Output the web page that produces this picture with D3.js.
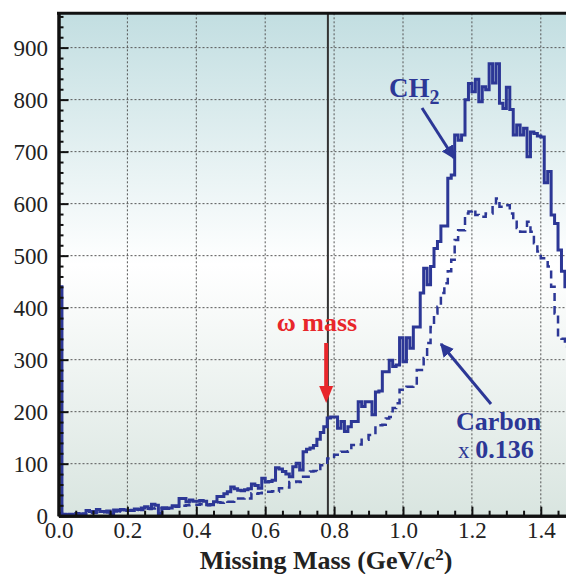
<!DOCTYPE html>
<html lang="en">
<head>
<meta charset="utf-8">
<title>Missing Mass spectrum</title>
<script src="https://cdn.jsdelivr.net/npm/d3@7"></script>
<style>
  body { margin: 0; background: #fff; }
  text { font-family: "Liberation Serif", "Times New Roman", serif; }
  .axis text { font-size: 23px; fill: #222; }
  .axis .domain { stroke: #111; stroke-width: 3; }
  .axis .tick line { stroke: #111; stroke-width: 2; }
  .grid line { stroke: #555; stroke-width: 1; stroke-dasharray: 2,2; }
</style>
</head>
<body>
<script>
/* histogram bins, width 0.01 GeV/c^2, starting at 0 */
var binWidth = 0.01;
var ch2 = [440, 3, 2, 3, 2, 4, 3, 3, 10, 8,
  8, 12, 8, 8, 9, 3, 11, 11, 12, 11,
  10, 10, 13, 12, 15, 17, 14, 22, 20, 4,
  14, 14, 15, 19, 19, 33, 33, 27, 30, 28,
  28, 29, 28, 21, 21, 27, 37, 37, 42, 46,
  55, 52, 49, 48, 50, 52, 61, 58, 53, 72,
  65, 66, 68, 92, 90, 85, 80, 75, 94, 101,
  88, 123, 128, 130, 135, 147, 160, 171, 188, 190,
  190, 168, 181, 162, 171, 181, 181, 219, 210, 219,
  219, 194, 238, 240, 277, 277, 299, 287, 290, 342,
  296, 342, 322, 363, 363, 428, 476, 444, 479, 514,
  527, 557, 557, 649, 655, 732, 722, 732, 800, 831,
  815, 839, 796, 825, 819, 869, 832, 869, 793, 783,
  824, 781, 732, 751, 732, 745, 690, 738, 735, 730,
  728, 640, 662, 578, 562, 511, 470, 440];
var carbon = [5, 2, 2, 3, 2, 3, 3, 4, 4, 5,
  5, 6, 6, 7, 6, 8, 8, 9, 8, 10,
  10, 11, 11, 12, 11, 13, 13, 14, 15, 15,
  16, 16, 17, 18, 17, 19, 19, 20, 21, 21,
  21, 22, 21, 20, 22, 24, 26, 25, 28, 27,
  27, 33, 33, 33, 34, 33, 43, 42, 43, 44,
  46, 46, 47, 46, 53, 53, 54, 65, 65, 66,
  65, 75, 75, 85, 86, 85, 97, 97, 110, 110,
  117, 117, 123, 123, 124, 136, 136, 137, 146, 146,
  155, 155, 174, 174, 175, 187, 190, 207, 216, 242,
  242, 248, 248, 249, 280, 280, 303, 332, 363, 389,
  402, 428, 447, 470, 492, 530, 549, 549, 581, 585,
  588, 578, 575, 575, 581, 581, 597, 610, 594, 597,
  597, 581, 565, 553, 546, 546, 565, 546, 524, 508,
  495, 495, 479, 440, 389, 344, 340, 325];
var xTicks = [0, 0.2, 0.4, 0.6, 0.8, 1.0, 1.2, 1.4];
var yTicks = [0, 100, 200, 300, 400, 500, 600, 700, 800, 900];
var omegaMass = 0.782;

var W = 566, H = 574;
var plotLeft = 58.5, plotTop = 13.3, plotBottom = 515.7;

var x = d3.scaleLinear().domain([0, 1.475]).range([plotLeft, plotLeft + 344.5 * 1.475]);
var y = d3.scaleLinear().domain([0, 966]).range([plotBottom, plotTop]);

var svg = d3.select("body").append("svg")
  .attr("width", W).attr("height", H);

var defs = svg.append("defs");
var grad = defs.append("linearGradient").attr("id", "bg")
  .attr("x1", 0).attr("y1", 0).attr("x2", 0).attr("y2", 1);
grad.append("stop").attr("offset", "0%").attr("stop-color", "#c2dee1");
grad.append("stop").attr("offset", "50%").attr("stop-color", "#ffffff");
grad.append("stop").attr("offset", "100%").attr("stop-color", "#d9e5e0");
defs.append("clipPath").attr("id", "clip").append("rect")
  .attr("x", plotLeft).attr("y", plotTop).attr("width", W - plotLeft).attr("height", plotBottom - plotTop);
defs.append("marker").attr("id", "head").attr("viewBox", "0 0 10 10")
  .attr("refX", 9).attr("refY", 5).attr("markerWidth", 4.5).attr("markerHeight", 4.5)
  .attr("orient", "auto").attr("markerUnits", "strokeWidth")
  .append("path").attr("d", "M0,0L10,5L0,10z").attr("fill", "#2c3796");

/* background */
svg.append("rect").attr("x", plotLeft).attr("y", plotTop)
  .attr("width", W - plotLeft).attr("height", plotBottom - plotTop)
  .attr("fill", "url(#bg)");

/* dotted grid */
var grid = svg.append("g").attr("class", "grid");
grid.selectAll(".gx").data(xTicks.slice(1)).enter().append("line")
  .attr("x1", d => x(d)).attr("x2", d => x(d)).attr("y1", plotTop).attr("y2", plotBottom);
grid.selectAll(".gy").data(yTicks.slice(1)).enter().append("line")
  .attr("x1", plotLeft).attr("x2", W).attr("y1", d => y(d)).attr("y2", d => y(d));

/* omega mass line */
svg.append("line")
  .attr("x1", x(omegaMass)).attr("x2", x(omegaMass))
  .attr("y1", plotTop).attr("y2", plotBottom)
  .attr("stroke", "#333").attr("stroke-width", 2);

/* histograms */
function steps(vals) {
  var pts = [[0, 0]];
  vals.forEach(function(v, i) { pts.push([i * binWidth, v]); });
  pts.push([vals.length * binWidth, vals[vals.length - 1]]);
  return pts;
}
var line = d3.line().x(d => x(d[0])).y(d => y(d[1])).curve(d3.curveStepAfter);
var plot = svg.append("g").attr("clip-path", "url(#clip)");
plot.append("path").attr("d", line(steps(carbon)))
  .attr("fill", "none").attr("stroke", "#2c3796")
  .attr("stroke-width", 2.5).attr("stroke-dasharray", "8,5");
plot.append("path").attr("d", line(steps(ch2)))
  .attr("fill", "none").attr("stroke", "#2c3796")
  .attr("stroke-width", 3).attr("stroke-linejoin", "miter");

/* axes */
var minorY = d3.range(0, 961, 20).filter(v => v % 100 !== 0);
var minorX = d3.range(0, 1.476, 0.05).filter(v => Math.abs(v * 5 - Math.round(v * 5)) > 1e-6);

svg.append("g").attr("class", "axis")
  .attr("transform", "translate(" + plotLeft + ",0)")
  .call(d3.axisLeft(y).tickValues(minorY).tickSize(-5).tickSizeOuter(0).tickFormat(""));
svg.append("g").attr("class", "axis")
  .attr("transform", "translate(0," + plotBottom + ")")
  .call(d3.axisBottom(x).tickValues(minorX).tickSize(-5).tickSizeOuter(0).tickFormat(""));

svg.append("g").attr("class", "axis")
  .attr("transform", "translate(" + plotLeft + ",0)")
  .call(d3.axisLeft(y).tickValues(yTicks).tickSize(-10).tickSizeOuter(0).tickPadding(10.5));
svg.append("g").attr("class", "axis")
  .attr("transform", "translate(0," + plotBottom + ")")
  .call(d3.axisBottom(x).tickValues(xTicks).tickSize(-9).tickSizeOuter(0)
    .tickPadding(6).tickFormat(d3.format(".1f")));

/* top border */
svg.append("line").attr("x1", plotLeft - 1.5).attr("x2", W).attr("y1", plotTop).attr("y2", plotTop)
  .attr("stroke", "#111").attr("stroke-width", 3);

/* x title */
var title = svg.append("text").attr("x", 326).attr("y", 569)
  .attr("text-anchor", "middle").style("font-size", "26px").style("font-weight", "bold")
  .attr("fill", "#222");
title.append("tspan").text("Missing Mass (GeV/c");
title.append("tspan").attr("dy", -9).style("font-size", "17px").text("2");
title.append("tspan").attr("dy", 9).text(")");

/* omega mass annotation */
svg.append("text").attr("x", 317).attr("y", 331).attr("text-anchor", "middle")
  .style("font-size", "26px").style("font-weight", "bold").attr("fill", "#e8262b")
  .text("ω mass");
var ax = x(0.777);
svg.append("line").attr("x1", ax).attr("x2", ax).attr("y1", 343).attr("y2", 388)
  .attr("stroke", "#e8262b").attr("stroke-width", 4);
svg.append("path")
  .attr("d", "M" + (ax - 7) + ",386L" + (ax + 7) + ",386L" + ax + ",403z")
  .attr("fill", "#e8262b");

/* CH2 label */
var ch2Label = svg.append("text").attr("x", 389).attr("y", 97)
  .style("font-size", "27px").style("font-weight", "bold").attr("fill", "#2c3796");
ch2Label.append("tspan").text("CH");
ch2Label.append("tspan").attr("dy", 7).style("font-size", "20px").text("2");
svg.append("line").attr("x1", 422).attr("y1", 108).attr("x2", 454).attr("y2", 158)
  .attr("stroke", "#2c3796").attr("stroke-width", 3).attr("marker-end", "url(#head)");

/* Carbon label */
svg.append("text").attr("x", 456).attr("y", 430)
  .style("font-size", "26px").style("font-weight", "bold").attr("fill", "#2c3796")
  .text("Carbon");
var scaleLabel = svg.append("text").attr("x", 458).attr("y", 458).attr("fill", "#2c3796");
scaleLabel.append("tspan").style("font-size", "23px").text("x ");
scaleLabel.append("tspan").style("font-size", "26px").style("font-weight", "bold").text("0.136");
svg.append("line").attr("x1", 491).attr("y1", 404).attr("x2", 441).attr("y2", 344)
  .attr("stroke", "#2c3796").attr("stroke-width", 3).attr("marker-end", "url(#head)");
</script>
</body>
</html>
